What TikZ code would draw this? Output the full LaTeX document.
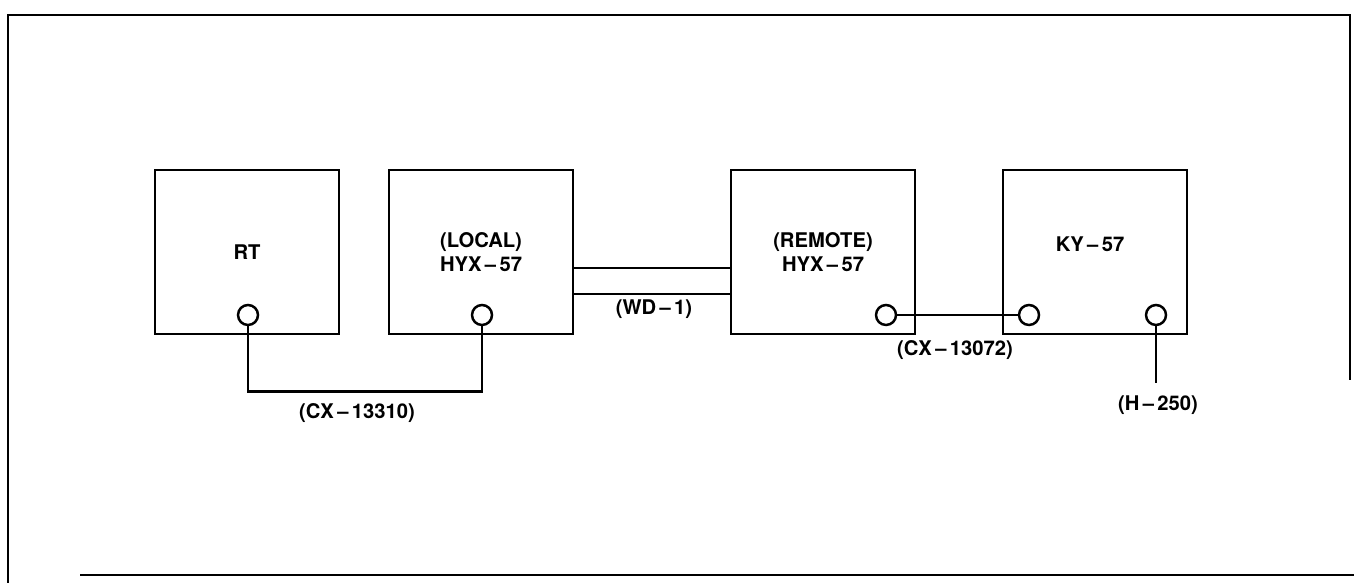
\documentclass[tikz,border=0pt]{standalone}
\usepackage{fontspec}
\setmainfont{TeX Gyre Heros}
\usetikzlibrary{positioning,calc}
\tikzset{
  unit/.style={draw,line width=1.6pt,minimum width=3.68cm,minimum height=3.28cm,align=center,font=\bfseries\fontsize{11.5}{14}\selectfont},
  jack/.style={draw,circle,line width=1.4pt,fill=white,inner sep=0pt,minimum size=0.4cm},
  cablelbl/.style={font=\bfseries\fontsize{11.5}{13}\selectfont,inner sep=1pt},
  cable/.style={line width=1.5pt}
}

\begin{document}
\begin{tikzpicture}[x=.2mm,y=-.2mm]
\useasboundingbox (0,0) rectangle (1354,583);
% frame
\draw[line width=1.6pt] (1350,380)--(1350,15)--(8,15)--(8,583);
\draw[line width=1.6pt] (80,575)--(1354,575);
% units
\node[unit] (rt) at (247,252){RT};
\node[unit] (local) at (481,252){(LOCAL)\\HYX\,--\,57};
\node[unit] (remote) at (823,252){(REMOTE)\\HYX\,--\,57};
\node[unit] (ky) at (1095,252){};
\node[cablelbl,font=\bfseries\fontsize{11.5}{14}\selectfont] at (1090,244){KY\,--\,57};
% jacks
\node[jack] (rtj) at (248,315){};
\node[jack] (locj) at (482,315){};
\node[jack] (remj) at (886,315){};
\node[jack] (kylj) at (1029,315){};
\node[jack] (kyrj) at (1156,315){};
% cables
\draw[cable] (rtj.south)--++(0,65)-|(locj.south);
\node[cablelbl] (cx1) at (357,413){(CX\,--\,13310)};
\draw[cable] (local.east|-0,268)--(remote.west|-0,268);
\draw[cable] (local.east|-0,294)--(remote.west|-0,294);
\node[cablelbl] (wd) at (654,309){(WD\,--\,1)};
\draw[cable] (remj.east)--(kylj.west);
\node[cablelbl] (cx2) at (955,350){(CX\,--\,13072)};
\node[cablelbl] (h250) at (1158,405){(H\,--\,250)};
\draw[cable] (kyrj.south)--(kyrj.south|-0,383);
\end{tikzpicture}
\end{document}
